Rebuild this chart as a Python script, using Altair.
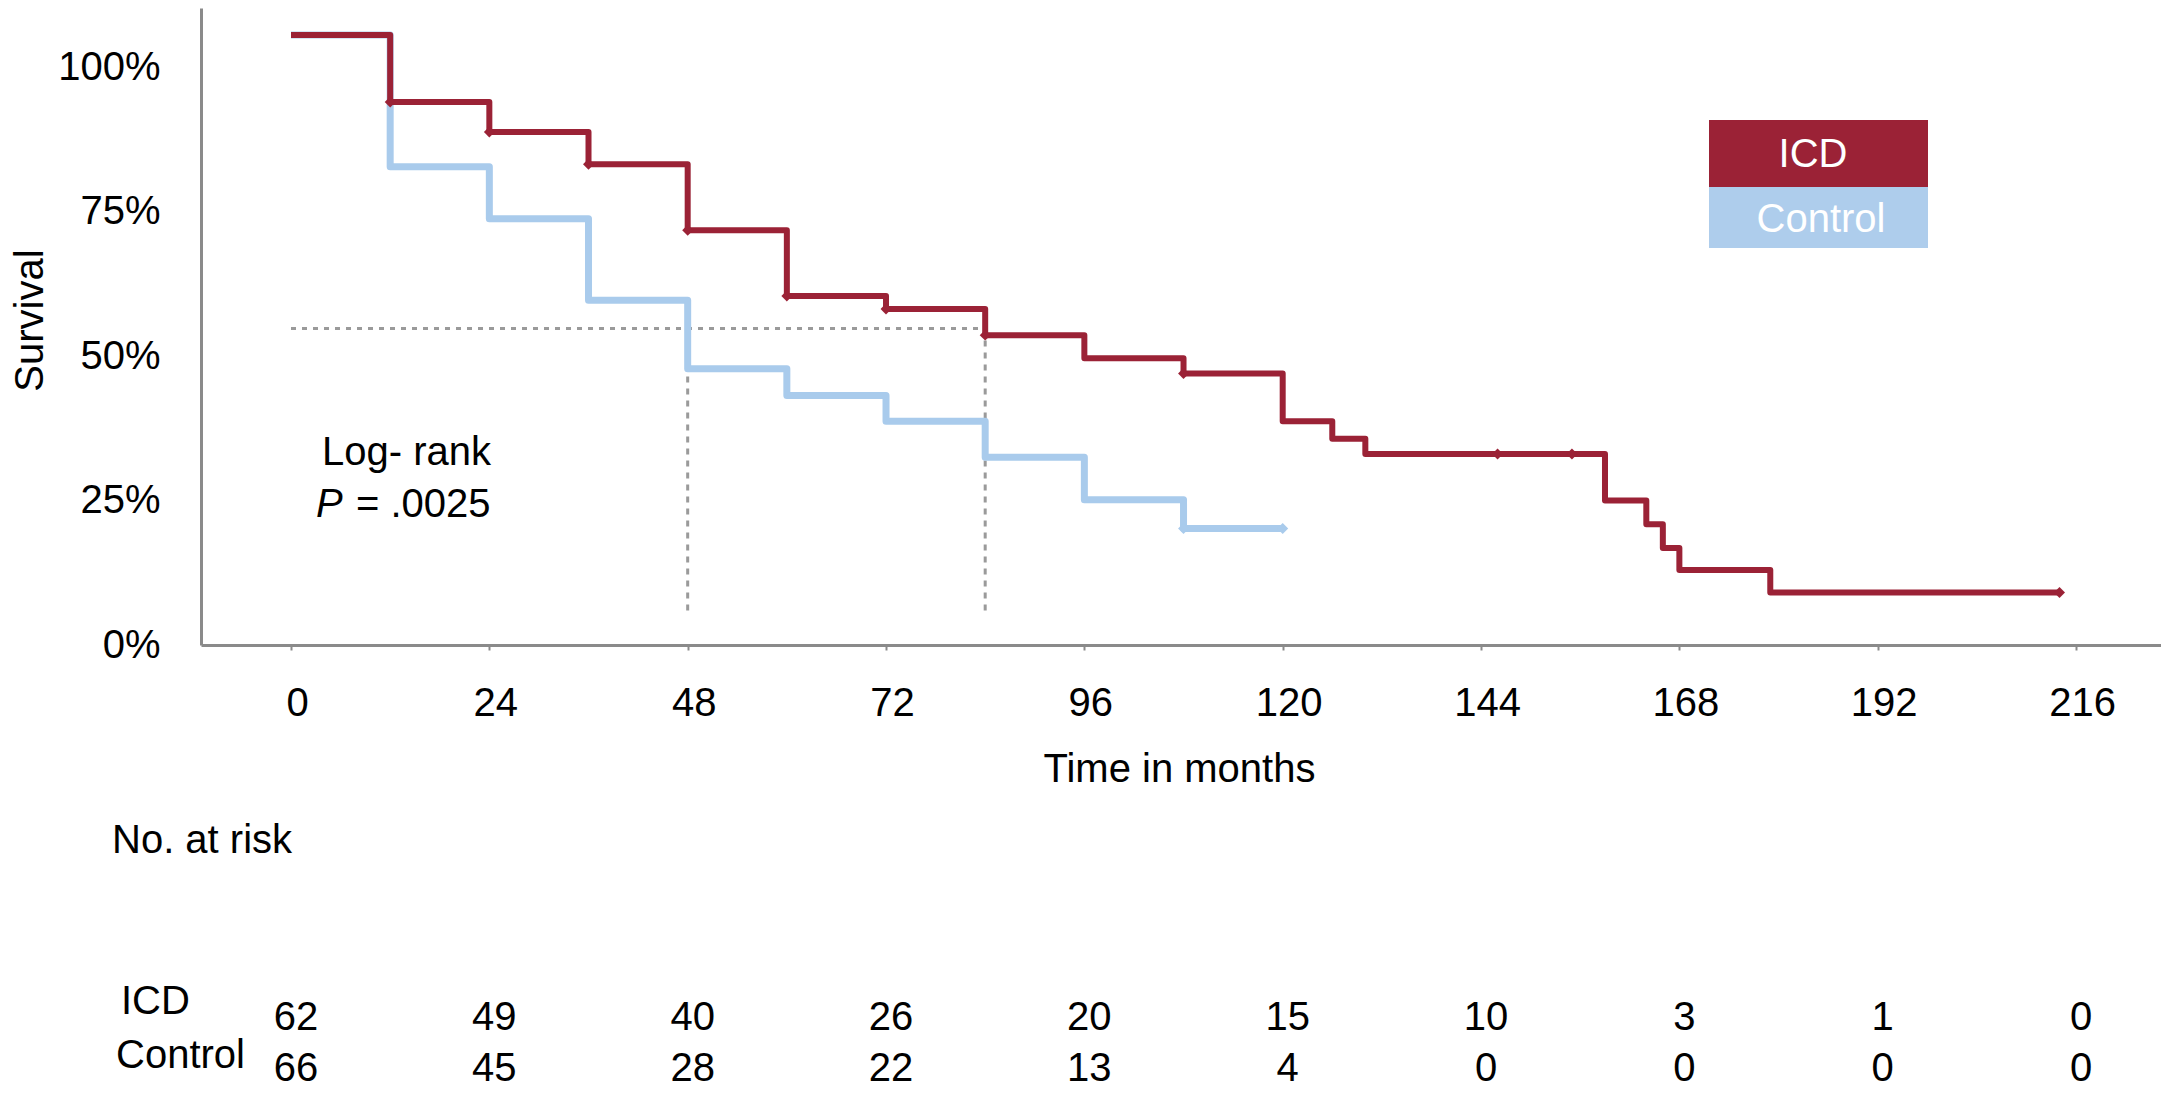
import altair as alt
import pandas as pd

# ---------------- data ----------------
groups = ["ICD", "Control"]

icd_time = [0, 12, 24, 36, 48, 60, 72, 84, 96, 108, 120, 126, 130, 159, 164, 166, 168, 179, 214]
icd_surv = [1.0, 0.890, 0.841, 0.788, 0.680, 0.572, 0.551, 0.508, 0.470, 0.445, 0.367,
            0.338, 0.313, 0.237, 0.198, 0.159, 0.123, 0.086, 0.086]

ctrl_time = [0, 12, 24, 36, 48, 60, 72, 84, 96, 108, 120]
ctrl_surv = [1.0, 0.784, 0.699, 0.565, 0.453, 0.409, 0.367, 0.308, 0.238, 0.191, 0.191]

icd_cens_time = [12, 24, 36, 48, 60, 72, 84, 108, 146, 155, 214]
icd_cens_surv = [0.890, 0.841, 0.788, 0.680, 0.572, 0.551, 0.508, 0.445, 0.313, 0.313, 0.086]

ctrl_cens_time = [108, 120]
ctrl_cens_surv = [0.191, 0.191]

risk_months = [0, 24, 48, 72, 96, 120, 144, 168, 192, 216]
icd_at_risk = [62, 49, 40, 26, 20, 15, 10, 3, 1, 0]
ctrl_at_risk = [66, 45, 28, 22, 13, 4, 0, 0, 0, 0]

y_ticks = [0, 0.25, 0.5, 0.75, 1.0]

median_months = [48, 84]
median_level = 0.519
median_floor = 0.05

logrank_label = "Log- rank"
p_symbol = "P"
p_value = "= .0025"
risk_title = "No. at risk"

# ---------------- styles / layout ----------------
FONT = "Liberation Sans"
FS = 40
RED = "#9b2236"
BLUE = "#a9cbec"
BLUE_LEG = "#aecdec"
GRAY = "#8a8a8a"
DOT = "#9a9a9a"

W, H = 1960, 637

xscale = alt.Scale(domain=[-10.891, 226.28], nice=False, zero=False)
yscale_curve = alt.Scale(domain=[0, 1.0443], nice=False, zero=False)
yscale_axis = alt.Scale(domain=[0, 1.1021], nice=False, zero=False)

xaxis = alt.Axis(values=risk_months, labelFontSize=FS, labelFont=FONT, labelColor="black",
                 labelPadding=33, labelFlush=False, labelOverlap=False, labelOffset=6,
                 tickSize=5, tickWidth=2, tickColor=GRAY, domainColor=GRAY, domainWidth=3,
                 grid=False, title="Time in months", titleFont=FONT, titleFontSize=FS,
                 titleFontWeight="normal", titleColor="black", titleX=978, titleY=104,
                 titleBaseline="top", titleAlign="center")


def X(field):
    return alt.X(field, type="quantitative", scale=xscale, axis=xaxis, title="Time in months")


def Y(field):
    return alt.Y(field, type="quantitative", scale=yscale_curve, axis=None)


icd_df = pd.DataFrame({"month": icd_time, "surv": icd_surv, "group": groups[0]})
ctrl_df = pd.DataFrame({"month": ctrl_time, "surv": ctrl_surv, "group": groups[1]})
icd_c = pd.DataFrame({"month": icd_cens_time, "surv": icd_cens_surv})
ctrl_c = pd.DataFrame({"month": ctrl_cens_time, "surv": ctrl_cens_surv})

med_h = pd.DataFrame({"m0": [0], "m1": [max(median_months)], "lvl": [median_level]})
med_v = pd.DataFrame({"month": median_months, "lvl": median_level, "floor": median_floor})

h_rule = alt.Chart(med_h).mark_rule(color=DOT, strokeWidth=3, strokeDash=[5, 6]).encode(
    x=X("m0"), x2="m1", y=Y("lvl"))
v_rule = alt.Chart(med_v).mark_rule(color=DOT, strokeWidth=3, strokeDash=[6, 6]).encode(
    x=X("month"), y=Y("lvl"), y2="floor")

ctrl_line = alt.Chart(ctrl_df).mark_line(interpolate="step-after", strokeWidth=7, color=BLUE,
                                         strokeJoin="round").encode(
    x=X("month"), y=Y("surv"))
icd_line = alt.Chart(icd_df).mark_line(interpolate="step-after", strokeWidth=6, color=RED,
                                       strokeJoin="round").encode(
    x=X("month"), y=Y("surv"))

ctrl_pts = alt.Chart(ctrl_c).mark_point(shape="diamond", filled=True, size=120, opacity=1, color=BLUE).encode(
    x=X("month"), y=Y("surv"))
icd_pts = alt.Chart(icd_c).mark_point(shape="diamond", filled=True, size=120, opacity=1, color=RED).encode(
    x=X("month"), y=Y("surv"))


def label(text, x, y, align="left", color="black", style="normal", size=FS):
    df = pd.DataFrame({"t": [text]})
    return alt.Chart(df).mark_text(font=FONT, fontSize=size, color=color, align=align,
                                   baseline="middle", fontStyle=style).encode(
        x=alt.value(x), y=alt.value(y), text="t:N")


texts = [
    label(logrank_label, 121, 445),
    label(p_symbol, 115, 497, style="italic"),
    label(p_value, 155, 497),
    label(risk_title, -89, 833),
    label(groups[0], -80, 994),
    label(groups[1], -85, 1048),
]

# legend boxes
leg_layout = {groups[0]: (112, 179, RED, 1612, 147), groups[1]: (179, 240, BLUE_LEG, 1620, 212)}
legend = []
for g in groups:
    y0, y1, col, tx, ty = leg_layout[g]
    df = pd.DataFrame({"t": [g]})
    legend.append(alt.Chart(df).mark_rect(color=col).encode(
        x=alt.value(1508), x2=alt.value(1727), y=alt.value(y0), y2=alt.value(y1)))
    legend.append(label(g, tx, ty, align="center", color="white"))

# at-risk table
risk_icd = pd.DataFrame({"month": risk_months, "n": icd_at_risk})
risk_ctrl = pd.DataFrame({"month": risk_months, "n": ctrl_at_risk})
risk_layers = []
for df, yy in [(risk_icd, 1010), (risk_ctrl, 1061)]:
    risk_layers.append(alt.Chart(df).mark_text(font=FONT, fontSize=FS, color="black", align="center",
                                               baseline="middle", dx=5).encode(
        x=X("month"), y=alt.value(yy), text="n:Q"))

inner = alt.layer(h_rule, v_rule, ctrl_line, icd_line, ctrl_pts, icd_pts, *texts, *legend, *risk_layers)

yaxis = alt.Axis(values=y_ticks, format=".0%", labelFontSize=FS, labelFont=FONT, labelColor="black",
                 labelPadding=41, ticks=False, tickSize=0, domainColor=GRAY, domainWidth=3, grid=False,
                 title="Survival", titleFont=FONT, titleFontSize=FS, titleFontWeight="normal",
                 titleColor="black", titleX=-171, titleY=312, titleAngle=270, titleBaseline="middle",
                 titleAlign="center", orient="left", labelOverlap=False, labelFlush=False)

axis_layer = alt.Chart(pd.DataFrame({"tick": y_ticks})).mark_point(opacity=0).encode(
    y=alt.Y("tick:Q", scale=yscale_axis, axis=yaxis))

chart = alt.layer(axis_layer, inner).resolve_scale(y="independent").properties(
    width=W, height=H,
    padding={"left": 193, "top": 0, "right": 0, "bottom": 443},
    autosize=alt.AutoSizeParams(type="none"),
    background="white",
).configure_view(stroke=None)

chart.save("out.html", embed_options={"renderer": "svg", "actions": False})
